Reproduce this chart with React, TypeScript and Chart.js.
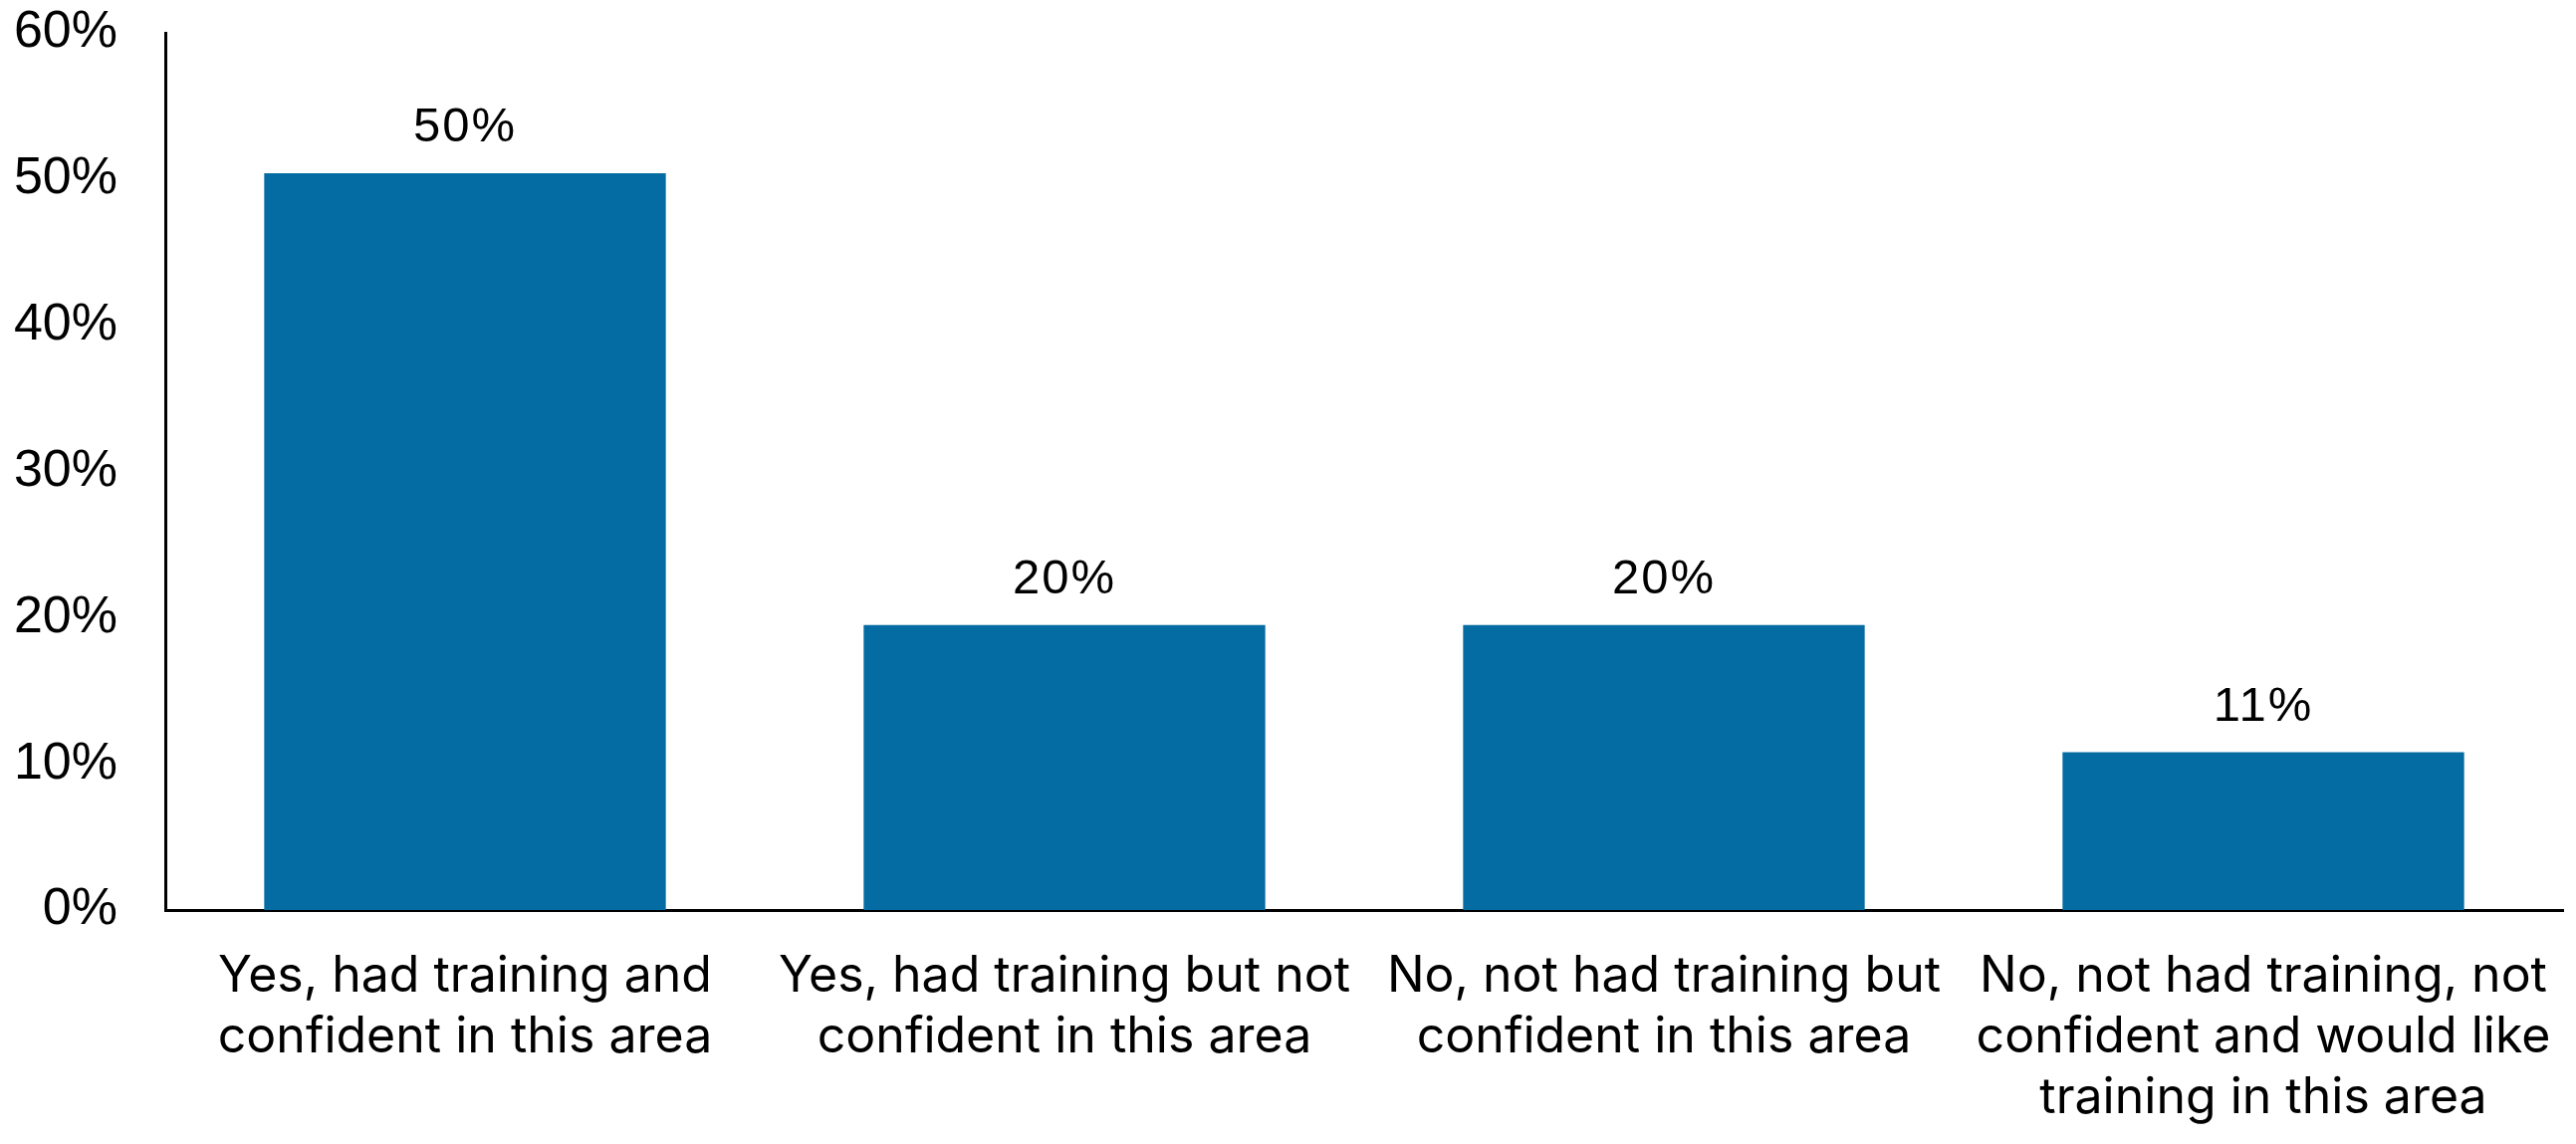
import { useEffect, useRef } from 'react';
import { Chart, registerables } from 'chart.js';

Chart.register(...registerables);

const categories = [
  ['Yes, had training and', 'confident in this area'],
  ['Yes, had training but not', 'confident in this area'],
  ['No, not had training but', 'confident in this area'],
  ['No, not had training, not', 'confident and would like', 'training in this area'],
];

const shares = [50.4, 19.5, 19.5, 10.8];

const yTicks = [0, 10, 20, 30, 40, 50, 60];

const barColor = '#056ca3';

// draws the rounded percentage above every bar
const valueLabels = {
  id: 'valueLabels',
  afterDatasetsDraw(chart: Chart) {
    const ctx = chart.ctx as any;
    const meta = chart.getDatasetMeta(0);
    ctx.save();
    ctx.font = '49px "Liberation Sans", Arial, sans-serif';
    ctx.letterSpacing = '2px';
    ctx.fillStyle = '#000';
    ctx.textAlign = 'center';
    ctx.textBaseline = 'middle';
    meta.data.forEach((bar: any, i: number) => {
      ctx.fillText(`${Math.round(shares[i])}%`, bar.x, bar.y - 45);
    });
    ctx.restore();
  },
};

export default function App() {
  const canvasRef = useRef<HTMLCanvasElement>(null);

  useEffect(() => {
    if (!canvasRef.current) return;

    const chart = new Chart(canvasRef.current, {
      type: 'bar',
      data: {
        labels: categories,
        datasets: [
          {
            data: shares,
            backgroundColor: barColor,
            barPercentage: 0.67,
            categoryPercentage: 1,
          },
        ],
      },
      options: {
        responsive: true,
        maintainAspectRatio: false,
        animation: false,
        layout: { padding: { top: 33, right: 13, left: 0, bottom: 0 } },
        plugins: { legend: { display: false }, tooltip: { enabled: false } },
        scales: {
          x: {
            grid: { display: false, drawTicks: false },
            border: { display: true, color: '#000', width: 3 },
            ticks: {
              color: '#000',
              padding: 36,
              maxRotation: 0,
              autoSkip: false,
              font: { family: 'Inter, "Noto Sans", sans-serif', size: 50, lineHeight: 1.22 },
            },
            afterFit(scale: any) {
              scale.height = 235;
              scale.paddingLeft = 0;
              scale.paddingRight = 0;
            },
          },
          y: {
            min: 0,
            max: 60,
            afterBuildTicks(scale: any) {
              scale.ticks = yTicks.map((v) => ({ value: v }));
            },
            grid: { display: false, drawTicks: false },
            border: { display: true, color: '#000', width: 3 },
            ticks: {
              color: '#000',
              padding: 48,
              font: { family: '"Liberation Sans", Arial, sans-serif', size: 52 },
              callback: (v: any) => `${v}%`,
            },
            afterFit(scale: any) {
              scale.width = 166;
              scale.paddingTop = 0;
              scale.paddingBottom = 0;
            },
          },
        },
      },
      plugins: [valueLabels],
    });

    return () => {
      chart.destroy();
    };
  }, []);

  return (
    <div style={{ position: 'absolute', left: 0, top: 0, width: 2587, height: 1149, background: '#fff' }}>
      <canvas ref={canvasRef} />
    </div>
  );
}
